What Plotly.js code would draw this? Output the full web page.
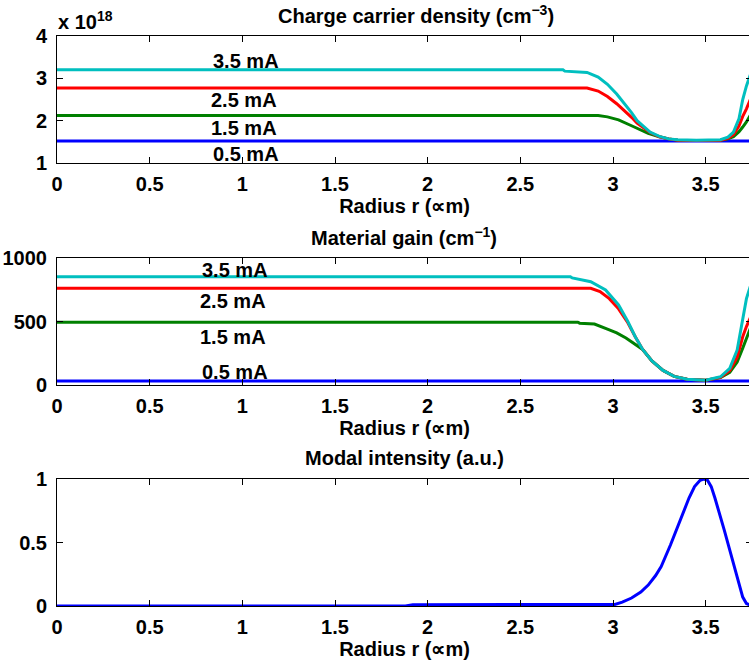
<!DOCTYPE html>
<html><head><meta charset="utf-8">
<script src="https://cdn.plot.ly/plotly-3.0.1.min.js"></script>
<style>html,body{margin:0;padding:0;overflow:hidden;background:#fff}#chart{width:760px;height:663px}</style>
</head><body><div id="chart"></div>
<script>
// ---- Tick values ----
const xTicks = [0, 0.5, 1, 1.5, 2, 2.5, 3, 3.5];
const densTicks = [1, 2, 3, 4];
const gainTicks = [0, 500, 1000];
const modeTicks = [0, 0.5, 1];
const currents = ['0.5 mA', '1.5 mA', '2.5 mA', '3.5 mA'];

// ---- Charge carrier density (x 10^18 cm^-3) ----
const densR_05 = [0, 3.75];
const dens_05  = [1.52, 1.52];
const densR_15 = [0, 2.92, 2.97, 3.03, 3.10, 3.15, 3.19, 3.25, 3.30, 3.35, 3.45, 3.58, 3.62, 3.65, 3.68, 3.70, 3.72, 3.75];
const dens_15  = [2.12, 2.12, 2.09, 2.02, 1.88, 1.77, 1.70, 1.62, 1.57, 1.54, 1.53, 1.54, 1.57, 1.62, 1.74, 1.85, 1.97, 2.2];
const densR_25 = [0, 2.86, 2.92, 2.97, 3.02, 3.06, 3.10, 3.13, 3.17, 3.20, 3.25, 3.30, 3.35, 3.45, 3.58, 3.62, 3.65, 3.68, 3.70, 3.72, 3.75];
const dens_25  = [2.77, 2.77, 2.70, 2.57, 2.40, 2.25, 2.08, 1.94, 1.81, 1.72, 1.62, 1.57, 1.54, 1.53, 1.54, 1.58, 1.67, 1.88, 2.10, 2.28, 2.6];
const densR_35 = [0, 2.73, 2.74, 2.86, 2.92, 2.97, 3.02, 3.06, 3.10, 3.13, 3.17, 3.20, 3.25, 3.30, 3.35, 3.45, 3.58, 3.62, 3.65, 3.68, 3.70, 3.72, 3.75];
const dens_35  = [3.20, 3.20, 3.17, 3.14, 3.03, 2.86, 2.63, 2.42, 2.19, 2.00, 1.84, 1.73, 1.63, 1.57, 1.55, 1.54, 1.55, 1.61, 1.73, 2.05, 2.50, 2.82, 3.2];

// ---- Material gain (cm^-1) ----
const gainR_05 = [0, 3.75];
const gain_05  = [31, 31];
const gainR_15 = [0, 2.81, 2.82, 2.90, 2.97, 3.02, 3.07, 3.11, 3.14, 3.16, 3.21, 3.27, 3.33, 3.40, 3.50, 3.58, 3.63, 3.67, 3.70, 3.72, 3.75];
const gain_15  = [494, 494, 487, 480, 440, 410, 370, 330, 300, 280, 190, 115, 68, 45, 38, 58, 100, 180, 290, 370, 480];
const gainR_25 = [0, 2.88, 2.93, 2.98, 3.03, 3.08, 3.12, 3.16, 3.21, 3.27, 3.33, 3.40, 3.50, 3.58, 3.63, 3.67, 3.70, 3.72, 3.75];
const gain_25  = [761, 761, 735, 680, 600, 490, 380, 280, 190, 115, 68, 45, 38, 60, 115, 220, 380, 460, 560];
const gainR_35 = [0, 2.77, 2.78, 2.88, 2.96, 3.03, 3.08, 3.12, 3.16, 3.21, 3.27, 3.33, 3.40, 3.50, 3.58, 3.63, 3.67, 3.70, 3.72, 3.75];
const gain_35  = [853, 853, 843, 813, 748, 630, 500, 380, 280, 190, 115, 68, 45, 38, 65, 131, 276, 520, 680, 820];

// ---- Modal intensity (a.u.) ----
const modeR = [0, 1.88, 1.92, 2.95, 3.01, 3.05, 3.10, 3.15, 3.19, 3.23, 3.26, 3.31, 3.37, 3.41, 3.44, 3.47, 3.49, 3.51, 3.53, 3.55, 3.60, 3.66, 3.70, 3.72, 3.75];
const mode  = [0, 0, 0.01, 0.01, 0.012, 0.03, 0.063, 0.11, 0.165, 0.24, 0.31, 0.48, 0.70, 0.85, 0.94, 0.99, 1.0, 0.99, 0.94, 0.85, 0.60, 0.28, 0.07, 0.02, 0.0];

const cBlue = 'rgb(0,0,255)', cGreen = 'rgb(0,128,0)', cRed = 'rgb(255,0,0)', cCyan = 'rgb(0,191,191)';
const LW = 3;

function tr(x, y, color, xa, ya, name) {
  return {type: 'scatter', mode: 'lines', x: x, y: y, xaxis: xa, yaxis: ya, name: name,
          line: {color: color, width: LW}, showlegend: false, hoverinfo: 'skip'};
}

const data = [
  tr(densR_05, dens_05, cBlue, 'x', 'y', currents[0]),
  tr(densR_15, dens_15, cGreen, 'x', 'y', currents[1]),
  tr(densR_25, dens_25, cRed, 'x', 'y', currents[2]),
  tr(densR_35, dens_35, cCyan, 'x', 'y', currents[3]),
  tr(gainR_05, gain_05, cBlue, 'x2', 'y2', currents[0]),
  tr(gainR_15, gain_15, cGreen, 'x2', 'y2', currents[1]),
  tr(gainR_25, gain_25, cRed, 'x2', 'y2', currents[2]),
  tr(gainR_35, gain_35, cCyan, 'x2', 'y2', currents[3]),
  tr(modeR, mode, cBlue, 'x3', 'y3', 'Modal intensity')
];

const H = 663, L = 57, PW = 695;
const py = p => (H - p) / H;      // pixel from top -> paper y
const px = p => (p - L) / PW;     // pixel from left -> paper x

const FONT = {family: 'Liberation Sans, Arial, Helvetica, sans-serif', size: 20, color: '#000', weight: 'bold'};

function xax(anchor) {
  return {anchor: anchor, range: [0, 3.75], tickvals: xTicks, ticktext: xTicks.map(String),
          showline: true, mirror: 'ticks', linecolor: '#000', linewidth: 1,
          ticks: 'inside', ticklen: 6, tickcolor: '#000', showgrid: false, zeroline: false,
          ticklabelstandoff: 3, fixedrange: true,
          title: {text: 'Radius r (∝m)', standoff: 2, font: FONT}};
}
function yax(anchor, dom, rng, tv) {
  return {anchor: anchor, domain: dom, range: rng, tickvals: tv, ticktext: tv.map(String),
          showline: true, mirror: 'ticks', linecolor: '#000', linewidth: 1,
          ticks: 'inside', ticklen: 6, tickcolor: '#000', showgrid: false, zeroline: false,
          ticklabelstandoff: 5, fixedrange: true};
}

const ann = [];
function lab(text, x, y, xr, yr) {
  ann.push({text: text, x: x, y: y, xref: xr, yref: yr, showarrow: false, xanchor: 'center', yanchor: 'middle', font: FONT});
}
// current labels (data coordinates)
lab(currents[3], 1.02, 3.41, 'x', 'y');
lab(currents[2], 1.01, 2.49, 'x', 'y');
lab(currents[1], 1.01, 1.83, 'x', 'y');
lab(currents[0], 1.02, 1.21, 'x', 'y');
lab(currents[3], 0.96, 906, 'x2', 'y2');
lab(currents[2], 0.95, 664, 'x2', 'y2');
lab(currents[1], 0.95, 380, 'x2', 'y2');
lab(currents[0], 0.96, 105, 'x2', 'y2');
// subplot titles
lab('Charge carrier density (cm<sup>−3</sup>)', px(416), py(14), 'paper', 'paper');
lab('Material gain (cm<sup>−1</sup>)', px(404), py(237), 'paper', 'paper');
lab('Modal intensity (a.u.)', px(404), py(458), 'paper', 'paper');
// exponent
ann.push({text: 'x 10<sup>18</sup>', x: px(56), y: py(20), xref: 'paper', yref: 'paper', showarrow: false,
          xanchor: 'left', yanchor: 'middle', font: FONT});

const layout = {
  width: 760, height: 663,
  margin: {l: L, r: 760 - L - PW, t: 0, b: 0},
  paper_bgcolor: '#fff', plot_bgcolor: '#fff',
  font: FONT, showlegend: false,
  xaxis: xax('y'), xaxis2: xax('y2'), xaxis3: xax('y3'),
  yaxis: yax('x', [py(163), py(36)], [1, 4], densTicks),
  yaxis2: yax('x2', [py(385), py(258)], [0, 1000], gainTicks),
  yaxis3: yax('x3', [py(606), py(479)], [0, 1], modeTicks),
  annotations: ann
};

Plotly.newPlot('chart', data, layout, {displayModeBar: false, staticPlot: true});
</script></body></html>
